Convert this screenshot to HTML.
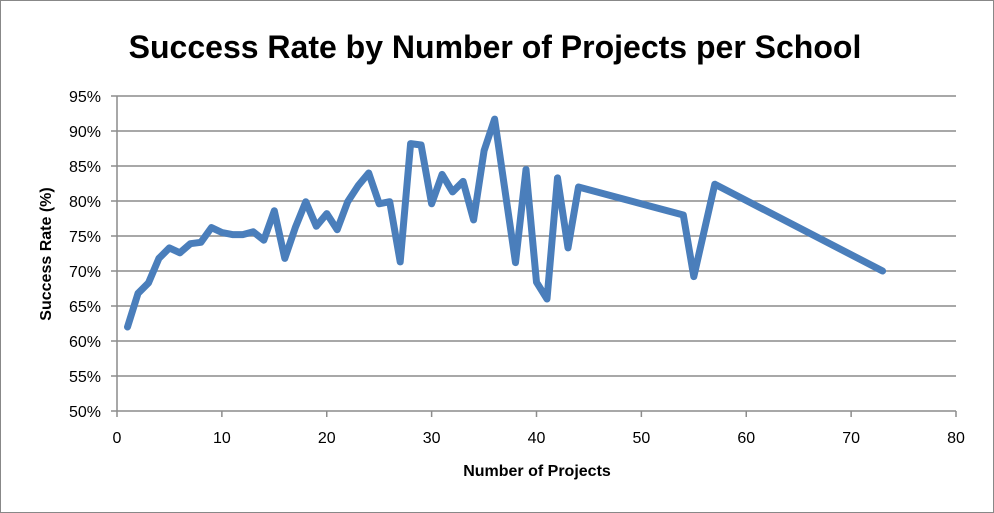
<!DOCTYPE html>
<html><head><meta charset="utf-8"><style>
html,body{margin:0;padding:0;background:#fff}
svg{display:block;font-family:"Liberation Sans",sans-serif}
</style></head><body>
<svg id="chart" width="994" height="513" viewBox="0 0 994 513">
<rect x="0.5" y="0.5" width="993" height="512" fill="#fff" stroke="#888"/>
<text x="495" y="58" text-anchor="middle" font-size="32" font-weight="bold">Success Rate by Number of Projects per School</text>
<g id="grid"></g><g id="axes"></g><g id="series"></g>
<text x="537" y="476" text-anchor="middle" font-size="16" font-weight="bold">Number of Projects</text>
<text transform="translate(51,254) rotate(-90)" text-anchor="middle" font-size="16" font-weight="bold">Success Rate (%)</text>
</svg>
<script>
const xValues=[1,2,3,4,5,6,7,8,9,10,11,12,13,14,15,16,17,18,19,20,21,22,23,24,25,26,27,28,29,30,31,32,33,34,35,36,38,39,40,41,42,43,44,54,55,57,73];
const successRates=[62,66.8,68.3,71.8,73.3,72.6,73.9,74.1,76.2,75.5,75.2,75.2,75.6,74.4,78.6,71.8,76.2,79.9,76.4,78.2,75.9,79.9,82.2,84,79.6,79.9,71.3,88.2,88,79.6,83.8,81.3,82.8,77.3,87.2,91.7,71.2,84.5,68.4,66,83.3,73.3,82,78,69.2,82.4,70];
const xTicks=[0,10,20,30,40,50,60,70,80];
const yTicks=[50,55,60,65,70,75,80,85,90,95];
const L=117,R=956,T=96,B=411;
const xs=v=>L+(v-0)/80*(R-L);
const ys=v=>B-(v-50)/45*(B-T);
const NS="http://www.w3.org/2000/svg";
function mk(tag,attrs,parent){const e=document.createElementNS(NS,tag);for(const k in attrs)e.setAttribute(k,attrs[k]);parent.appendChild(e);return e;}
const grid=document.getElementById('grid'),axes=document.getElementById('axes'),series=document.getElementById('series');
yTicks.forEach(t=>{
  const y=ys(t);
  const g=mk('line',{x1:L,x2:R,y1:y,y2:y,stroke:'#8c8c8c','stroke-width':1.5},grid);
  
  
  const tk=mk('line',{x1:L-6,x2:L,y1:y,y2:y,stroke:'#8c8c8c','stroke-width':1.5},axes);
  
  
  const tx=mk('text',{x:L-16,y:y+6,'text-anchor':'end','font-size':16},axes);
  tx.textContent=t+'%';
  
  
});
const ya=mk('line',{x1:L,x2:L,y1:T,y2:B,stroke:'#8c8c8c','stroke-width':1.5},axes);


xTicks.forEach(t=>{
  const x=xs(t);
  const tk=mk('line',{x1:x,x2:x,y1:B,y2:B+6,stroke:'#8c8c8c','stroke-width':1.5},axes);
  
  
  const tx=mk('text',{x:x,y:B+32,'text-anchor':'middle','font-size':16},axes);
  tx.textContent=t;
  
  
});
const pts=xValues.map((v,i)=>xs(v).toFixed(1)+','+ys(successRates[i]).toFixed(1)).join(' ');
const pl=mk('polyline',{points:pts,fill:'none',stroke:'#4a7ebb','stroke-width':7,'stroke-linejoin':'round','stroke-linecap':'round'},series);


</script>
</body></html>
